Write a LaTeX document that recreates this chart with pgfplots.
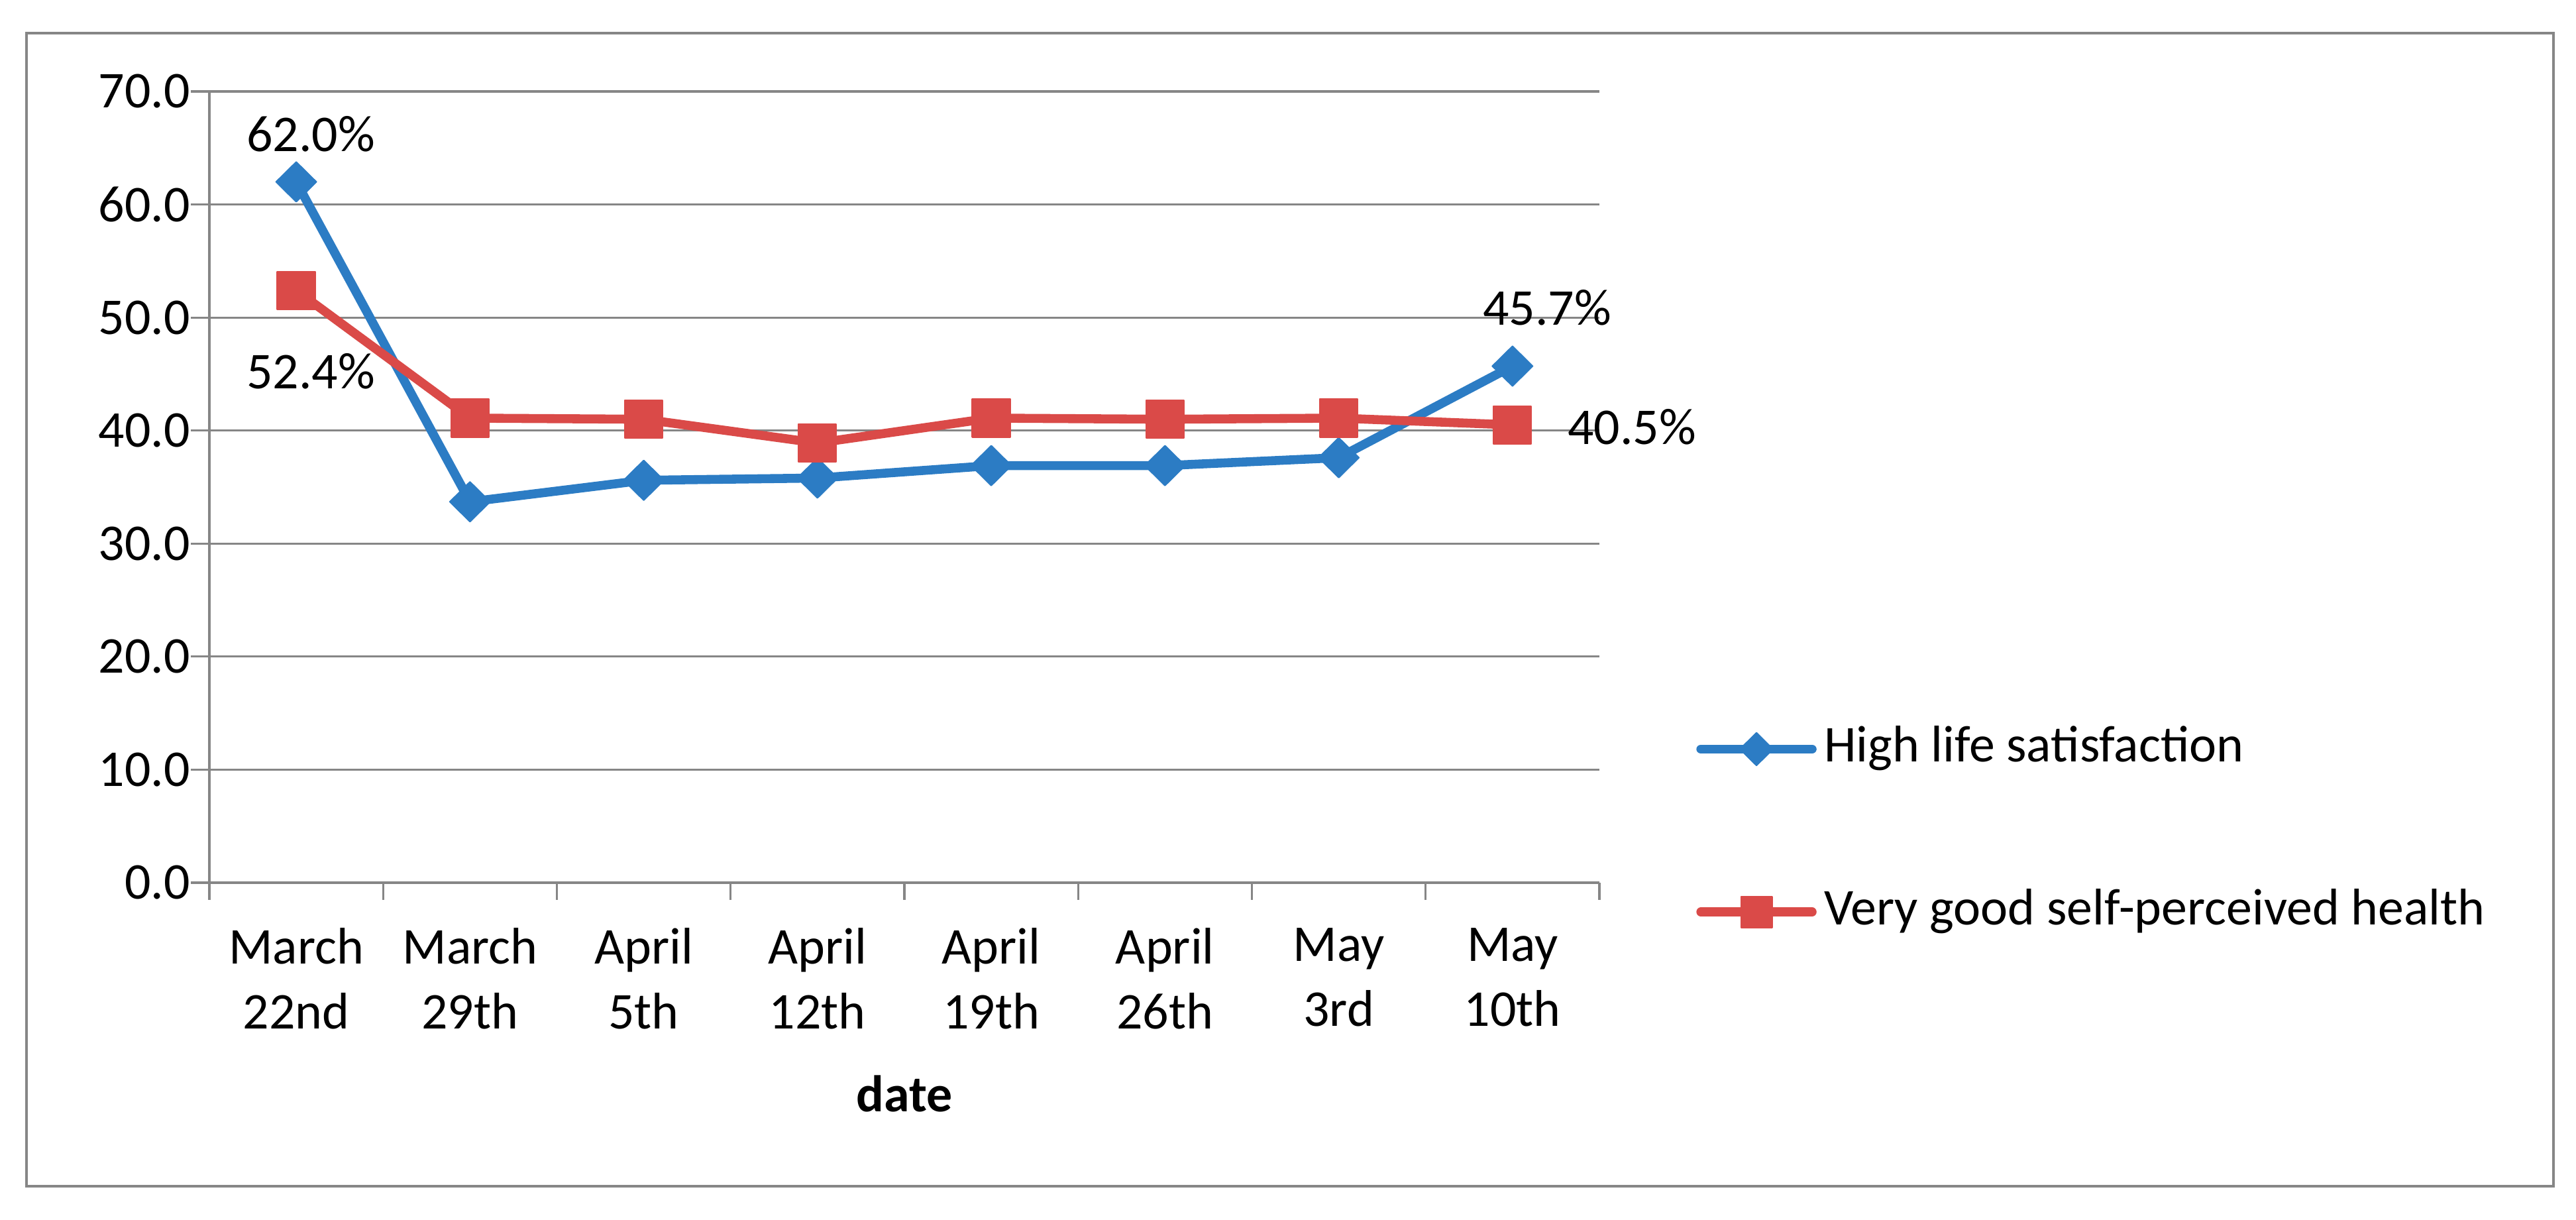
\documentclass[border=0pt]{standalone}
\usepackage{fontspec}
\setmainfont{Carlito}
\usepackage{pgfplots}
\pgfplotsset{compat=1.18}
\definecolor{sblue}{RGB}{44,124,196}
\definecolor{sred}{RGB}{218,74,72}
\definecolor{gridgray}{RGB}{134,134,134}
\begin{document}
\fontsize{10.9}{13.7}\selectfont
\begin{tikzpicture}[font=\fontsize{10.9}{13.7}\selectfont]
\useasboundingbox (-44.24pt,-71.12pt) rectangle (500.08pt,186.48pt);
\draw[gridgray, line width=0.6pt] (-38.64pt,-64.12pt) rectangle (495.32pt,179.48pt);
\begin{axis}[
  at={(0pt,0pt)}, anchor=south west,
  scale only axis, width=293.72pt, height=167.16pt,
  xmin=-0.5, xmax=7.5, ymin=0, ymax=70,
  axis x line*=bottom, axis y line*=left,
  x axis line style={gridgray, line width=0.65pt},
  y axis line style={gridgray, line width=0.45pt},
  ytick={0,10,...,70},
  ymajorgrids, grid style={gridgray, line width=0.45pt},
  /pgf/number format/.cd, fixed, fixed zerofill, precision=1, assume math mode=true, /pgfplots/.cd,
  xtick={0,...,7},
  xticklabels={{March\\22nd},{March\\29th},{April\\5th},{April\\12th},{April\\19th},{April\\26th},{May\\3rd},{May\\10th}},
  xticklabel style={align=center, inner sep=0pt, yshift=-5.5pt, font=\fontsize{10.9}{13.7}\selectfont},
  yticklabel style={inner sep=0pt},
  every major x tick/.append style={draw=none},
  minor xtick={-0.5,0.5,...,7.5},
  tick align=outside,
  major tick length=3.9pt, minor tick length=3.6pt,
  tick style={gridgray, line width=0.45pt},
  xlabel={\bfseries date},
  xlabel style={at={(axis description cs:0.5,0)}, anchor=base, inner sep=0pt, yshift=-48.4pt},
  clip=false,
  legend cell align=left,
  legend style={at={(1.0691,0.2026)}, anchor=north west, draw=none, fill=none, inner sep=0pt,
    row sep=23.5pt, column sep=1.6pt,
    nodes={inner sep=0pt, text height=0.75em, text depth=0.25em}},
  legend image code/.code={\draw[line cap=round, every mark/.append style={scale=0.82}, mark repeat=2, mark phase=2] plot coordinates {(0pt,0pt)(11.75pt,0pt)(23.5pt,0pt)};},
]
\addplot[sblue, line width=1.9pt, line join=round, mark=diamond*, mark size=4.2pt,
  mark options={solid, line width=0.3pt, xscale=1.35}]
  coordinates {(0,62.0)(1,33.7)(2,35.6)(3,35.8)(4,36.9)(5,36.9)(6,37.6)(7,45.7)};
\addlegendentry{High life satisfaction}
\addplot[sred, line width=1.9pt, line join=round, mark=square*, mark size=4.0pt,
  mark options={solid, line width=0.3pt}]
  coordinates {(0,52.4)(1,41.1)(2,41.0)(3,38.9)(4,41.1)(5,41.0)(6,41.1)(7,40.5)};
\addlegendentry{Very good self-perceived health}
\node[anchor=base, inner sep=0pt, xshift=3.1pt, yshift=6.4pt] at (axis cs:0,62.0) {62.0\%};
\node[anchor=base, inner sep=0pt, xshift=3.1pt, yshift=-20.7pt] at (axis cs:0,52.4) {52.4\%};
\node[anchor=base, inner sep=0pt, xshift=7.3pt, yshift=8.7pt] at (axis cs:7,45.7) {45.7\%};
\node[anchor=base west, inner sep=0pt, xshift=11.5pt, yshift=-4.06pt] at (axis cs:7,40.5) {40.5\%};
\end{axis}
\end{tikzpicture}
\end{document}
